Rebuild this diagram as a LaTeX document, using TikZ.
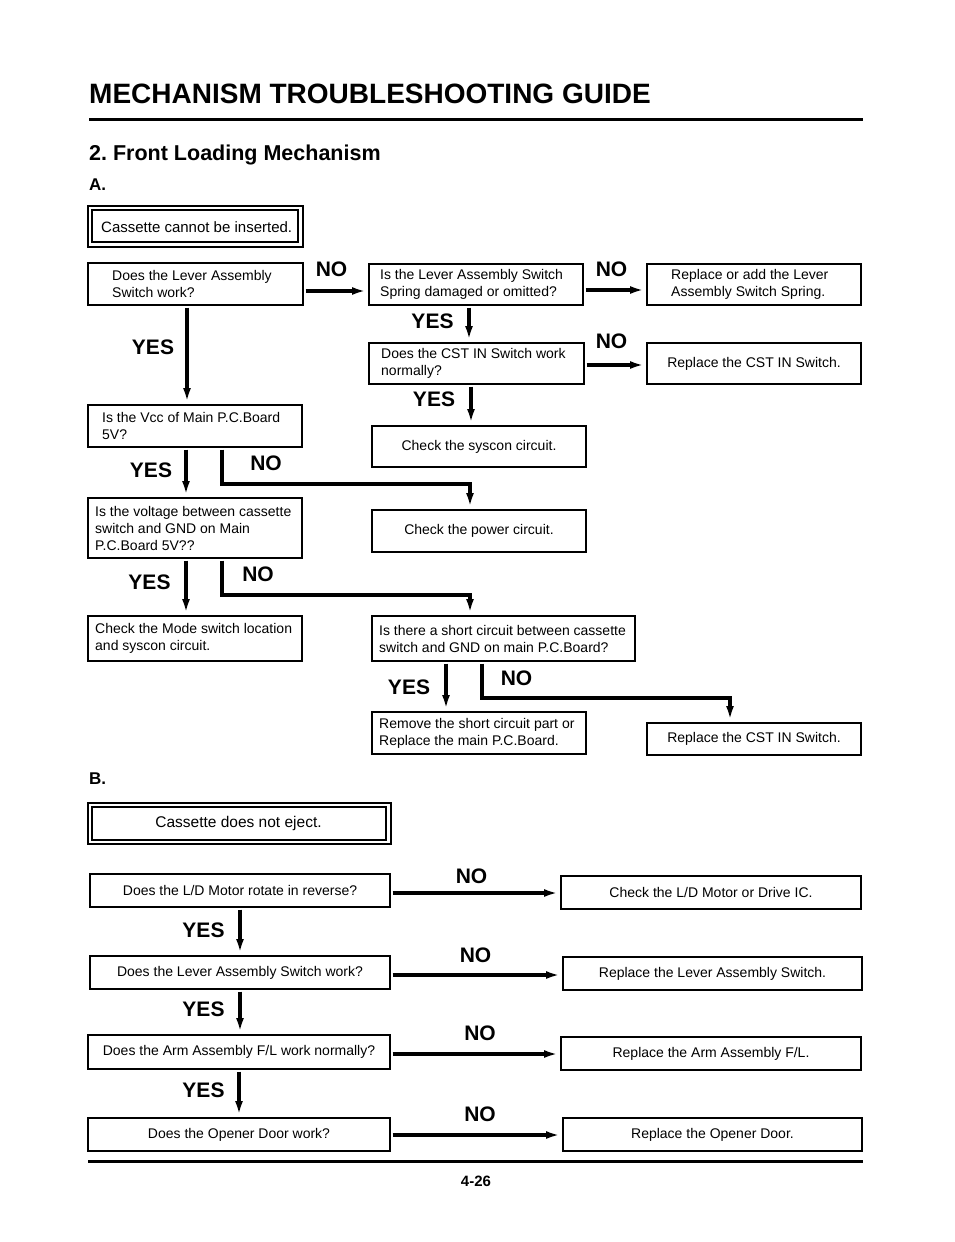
\documentclass[tikz,border=0pt]{standalone}
\usepackage{fontspec}
\setmainfont{Liberation Sans}
\usetikzlibrary{arrows.meta}
\frenchspacing
\newcommand\bx[6][]{\node[box,#1,minimum width={#5-#3},minimum height={#6-#4}] (#2) at (#3,#4) {};}
\begin{document}
\frenchspacing
\begin{tikzpicture}[x=1pt,y=-1pt,
  box/.style={draw,line width=1.1pt,inner sep=0pt,outer sep=0pt,anchor=north west},
  inner/.style={line width=1.8pt},
  txt/.style={inner sep=0pt,font=\fontsize{14}{17}\selectfont,align=left},
  ctxt/.style={inner sep=0pt,font=\fontsize{14}{17}\selectfont,align=center},
  lab/.style={inner sep=0pt,font=\fontsize{21}{21}\selectfont\bfseries},
  arr/.style={line width=3.2pt,line join=miter,-{Latex[length=14pt,width=8pt]},shorten >=3pt,shorten <=2.5pt},
  rulel/.style={line width=3pt}]
\useasboundingbox (0,0) rectangle (954,1242);

% headings
\node[inner sep=0pt,anchor=base west,font=\fontsize{28}{28}\selectfont\bfseries] (title) at (89,103) {MECHANISM TROUBLESHOOTING GUIDE};
\draw[rulel] (89,119) -- (863,119);
\node[inner sep=0pt,anchor=base west,font=\fontsize{21.5}{22}\selectfont\bfseries] (sec) at (89,160) {2. Front Loading Mechanism};
\node[inner sep=0pt,anchor=base west,font=\fontsize{17}{17}\selectfont\bfseries] (secA) at (89,190) {A.};
\node[inner sep=0pt,anchor=base west,font=\fontsize{17}{17}\selectfont\bfseries] (secB) at (89,784) {B.};

% ---------- Section A boxes ----------
\bx[line width=1.2pt]{ca}{88}{206}{303}{247}
\draw[inner] ([shift={(4pt,-4pt)}]ca.north west) rectangle ([shift={(-5pt,5pt)}]ca.south east);
\node[inner sep=0pt,anchor=west,font=\fontsize{15}{17}\selectfont] (cat) at ([xshift=13pt,yshift=-0.5pt]ca.west) {Cassette cannot be inserted.};
\bx{lever}{88}{263}{303}{305}
\node[txt,anchor=west] (levert) at ([xshift=24pt]lever.west) {Does the Lever Assembly\\Switch work?};
\bx{spring}{369}{264}{583}{305}
\node[txt,anchor=west] (springt) at ([xshift=11pt]spring.west) {Is the Lever Assembly Switch\\Spring damaged or omitted?};
\bx{addspr}{647}{264}{861}{305}
\node[txt,anchor=west] (addsprt) at ([xshift=24pt]addspr.west) {Replace or add the Lever\\Assembly Switch Spring.};
\bx{cst}{369}{343}{584}{384}
\node[txt,anchor=west] (cstt) at ([xshift=12pt]cst.west) {Does the CST IN Switch work\\normally?};
\bx{repcst}{647}{343}{861}{384}
\node[ctxt] (repcstt) at (repcst.center) {Replace the CST IN Switch.};
\bx{vcc}{88}{405}{302}{447}
\node[txt,anchor=west] (vcct) at ([xshift=14pt]vcc.west) {Is the Vcc of Main P.C.Board\\5V?};
\bx{syscon}{372}{426}{586}{467}
\node[ctxt] (syscont) at (syscon.center) {Check the syscon circuit.};
\bx{volt}{88}{498}{302}{558}
\node[txt,anchor=west] (voltt) at ([xshift=7pt]volt.west) {Is the voltage between cassette\\switch and GND on Main\\P.C.Board 5V??};
\bx{power}{372}{510}{586}{552}
\node[ctxt] (powert) at (power.center) {Check the power circuit.};
\bx{mode}{88}{616}{302}{661}
\node[txt,anchor=west] (modet) at ([xshift=7pt]mode.west) {Check the Mode switch location\\and syscon circuit.};
\bx{short}{372}{616}{635}{661}
\node[txt,anchor=west] (shortt) at ([xshift=7pt]short.west) {Is there a short circuit between cassette\\switch and GND on main P.C.Board?};
\bx{remove}{372}{712}{586}{754}
\node[txt,anchor=west] (removet) at ([xshift=7pt]remove.west) {Remove the short circuit part or\\Replace the main P.C.Board.};
\bx{repcstb}{647}{723}{861}{755}
\node[ctxt] (repcstbt) at (repcstb.center) {Replace the CST IN Switch.};

% ---------- Section A connectors ----------
\draw[arr] ([yshift=-7pt]lever.east) -- ([yshift=-6.5pt]spring.west);
\draw[arr] ([yshift=-5.5pt]spring.east) -- ([yshift=-5.5pt]addspr.west);
\draw[arr] ([yshift=-1.5pt]cst.east) -- ([yshift=-1.5pt]repcst.west);
\draw[arr] ([xshift=-7pt]spring.south) -- ([xshift=-7.5pt]cst.north);
\draw[arr] ([xshift=-5.5pt]cst.south) -- ([xshift=-8pt]syscon.north);
\draw[arr] ([xshift=-8.5pt]lever.south) -- ([xshift=-8pt]vcc.north);
\draw[arr] ([xshift=-9pt]vcc.south) -- ([xshift=-9pt]volt.north);
\draw[arr] ([xshift=27pt]vcc.south) |- ([xshift=-9pt,yshift=26pt]power.north) -- ([xshift=-9pt]power.north);
\draw[arr] ([xshift=-9pt]volt.south) -- ([xshift=-9pt]mode.north);
\draw[arr] ([xshift=27pt]volt.south) |- ([xshift=-33.5pt,yshift=21pt]short.north) -- ([xshift=-33.5pt]short.north);
\draw[arr] ([xshift=-57.5pt]short.south) -- ([xshift=-33pt]remove.north);
\draw[arr] ([xshift=-21.5pt]short.south) |- ([xshift=-24pt,yshift=25pt]repcstb.north) -- ([xshift=-24pt]repcstb.north);

% labels A
\node[lab] (no1) at (331.5,269) {NO};
\node[lab] (no2) at (611.5,269) {NO};
\node[lab] (yes1) at (432.5,321) {YES};
\node[lab] (no3) at (611.5,341) {NO};
\node[lab] (yes2) at (434,399) {YES};
\node[lab] (yes3) at (153,347) {YES};
\node[lab] (yes4) at (151,470) {YES};
\node[lab] (no4) at (266,463) {NO};
\node[lab] (yes5) at (149.5,582) {YES};
\node[lab] (no5) at (258,574) {NO};
\node[lab] (yes6) at (409,687) {YES};
\node[lab] (no6) at (516.5,678) {NO};

% ---------- Section B ----------
\bx[line width=1.2pt]{cb}{88}{803}{391}{844}
\draw[inner] ([shift={(4pt,-4pt)}]cb.north west) rectangle ([shift={(-5pt,4pt)}]cb.south east);
\node[inner sep=0pt,font=\fontsize{15.5}{17}\selectfont] (cbt) at ([xshift=-1pt]cb.center) {Cassette does not eject.};
\bx{ld}{90}{874}{390}{907}
\node[ctxt] (ldt) at (ld.center) {Does the L/D Motor rotate in reverse?};
\bx{chkld}{561}{876}{861}{909}
\node[ctxt] (chkldt) at (chkld.center) {Check the L/D Motor or Drive IC.};
\bx{levb}{90}{956}{390}{989}
\node[ctxt] (levbt) at (levb.center) {Does the Lever Assembly Switch work?};
\bx{replev}{563}{957}{862}{990}
\node[ctxt] (replevt) at (replev.center) {Replace the Lever Assembly Switch.};
\bx{arm}{88}{1035}{390}{1069}
\node[ctxt] (armt) at (arm.center) {Does the Arm Assembly F/L work normally?};
\bx{reparm}{561}{1037}{861}{1070}
\node[ctxt] (reparmt) at (reparm.center) {Replace the Arm Assembly F/L.};
\bx{door}{88}{1118}{390}{1151}
\node[ctxt] (doort) at (door.center) {Does the Opener Door work?};
\bx{repdoor}{563}{1118}{862}{1151}
\node[ctxt] (repdoort) at (repdoor.center) {Replace the Opener Door.};

\draw[arr] ([yshift=-2.5pt]ld.east) -- ([yshift=-0.5pt]chkld.west);
\draw[arr] ([yshift=-2.5pt]levb.east) -- ([yshift=-1.5pt]replev.west);
\draw[arr] ([yshift=-2pt]arm.east) -- ([yshift=-0.5pt]reparm.west);
\draw[arr] ([yshift=-0.5pt]door.east) -- ([yshift=-0.5pt]repdoor.west);
\draw[arr] (ld.south) -- (levb.north);
\draw[arr] (levb.south) -- ([xshift=1pt]arm.north);
\draw[arr] (arm.south) -- (door.north);

\node[lab] (bno1) at (471.5,876) {NO};
\node[lab] (byes1) at (203.5,930) {YES};
\node[lab] (bno2) at (475.5,955) {NO};
\node[lab] (byes2) at (203.5,1009) {YES};
\node[lab] (bno3) at (480,1033) {NO};
\node[lab] (byes3) at (203.5,1090) {YES};
\node[lab] (bno4) at (480,1114) {NO};

\draw[rulel] (88,1161) -- (863,1161);
\node[inner sep=0pt,font=\fontsize{15}{15}\selectfont\bfseries] (page) at (476,1181) {4-26};
\end{tikzpicture}
\end{document}
